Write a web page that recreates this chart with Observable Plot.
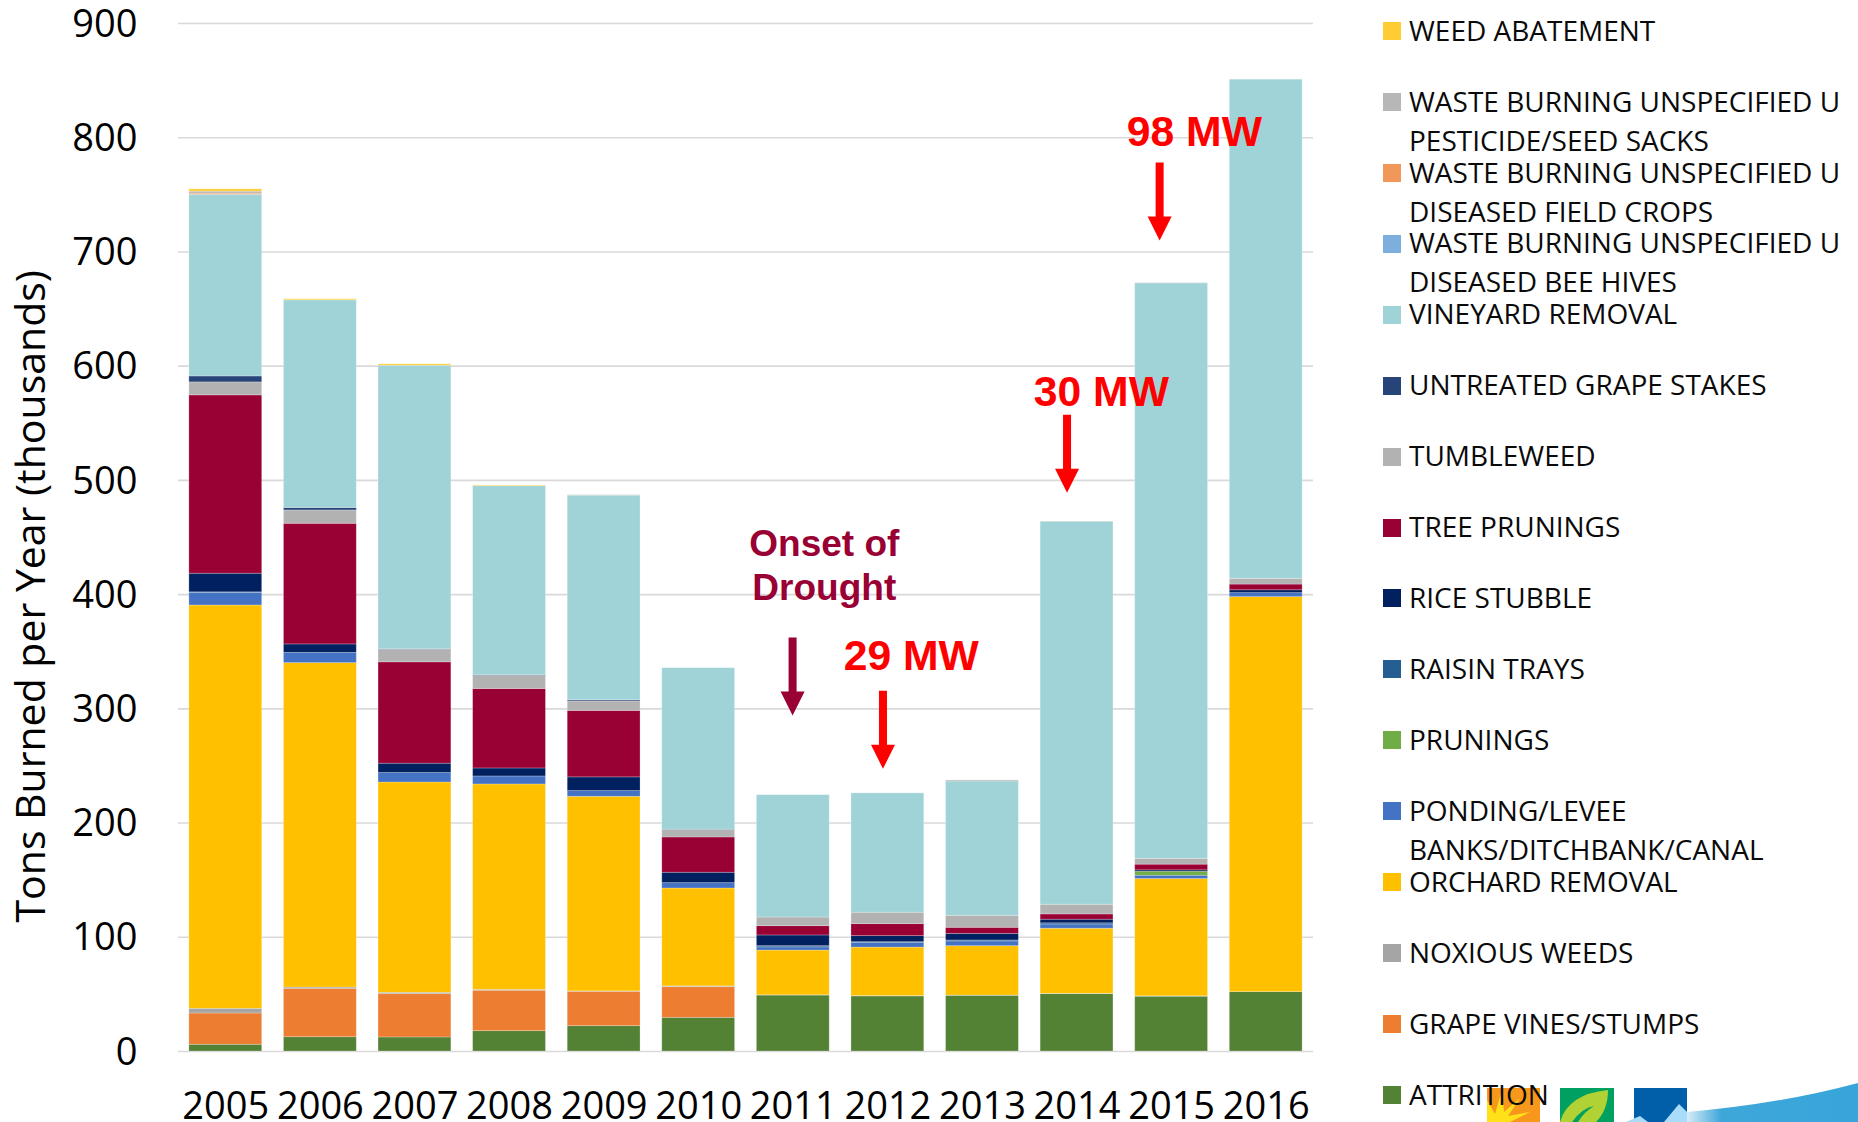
<!DOCTYPE html>
<html>
<head>
<meta charset="utf-8">
<script src="https://cdn.jsdelivr.net/npm/d3@7"></script>
<script src="https://cdn.jsdelivr.net/npm/@observablehq/plot@0.6"></script>
<style>
html,body{margin:0;padding:0;background:#fff;width:1858px;height:1122px;overflow:hidden;position:relative;font-family:"Open Sans",sans-serif;color:#000}
svg{display:block}
#chart{position:absolute;left:0;top:0}
#logos{position:absolute;left:0;top:0}
.sw{position:absolute;width:18px;height:18px}
.lb{position:absolute;left:1409px;font-size:28px;line-height:39px;white-space:pre;color:#0a0a0a}
</style>
</head>
<body>
<div id="chart"></div>
<svg id="logos" width="1858" height="1122">
  <defs>
    <linearGradient id="sw" x1="0" x2="1" y1="0" y2="0">
      <stop offset="0" stop-color="#d6ecf7"/><stop offset="0.2" stop-color="#3ea7da"/><stop offset="1" stop-color="#37a5da"/>
    </linearGradient>
  </defs>
  <rect x="1487" y="1088" width="53" height="34" fill="#f7981d"/>
  <path d="M1487 1122L1487 1100L1495 1114L1502 1090L1504 1112L1520 1098L1508 1116L1530 1112L1510 1122Z" fill="#ffe11a"/>
  <rect x="1560" y="1088" width="54" height="34" fill="#00a160"/>
  <path d="M1560 1122Q1568 1094 1608 1090Q1608 1110 1596 1122Z" fill="#b0d235"/>
  <path d="M1572 1122Q1582 1108 1594 1106Q1584 1112 1578 1122Z" fill="#00a160"/>
  <rect x="1634" y="1088" width="53" height="34" fill="#005fa8"/>
  <path d="M1626 1122L1640 1116L1648 1122L1664 1122L1679 1104L1687 1112L1687 1122Z" fill="#a8dcf8"/>
  <path d="M1687 1112Q1780 1104 1858 1083L1858 1122L1687 1122Z" fill="url(#sw)"/>
</svg>
<div id="legend"></div>
<script>
const years = ["2005","2006","2007","2008","2009","2010","2011","2012","2013","2014","2015","2016"];
const yTicks = [0,100,200,300,400,500,600,700,800,900];

const attrition      = [5.9,12.5,12.3,17.8,22.2,29.5,49,48.2,48.8,50.2,48,52];
const grapeVines     = [27.4,42.4,37.9,35.4,30.1,26.8,0,0,0,0,0,0];
const noxiousWeeds   = [4.1,1.1,1.2,0.8,0.3,0.7,0.2,0.3,0.2,0.3,0.3,0];
const orchardRemoval = [353.1,284,184.1,179.8,170.4,85.7,39.2,42.5,43.2,57,102.7,345.8];
const ponding        = [11,9,8.3,7,5,4.7,2.8,4,4.2,3.7,2.9,3.5];
const prunings       = [0,0,0,0,0,0,0,0,0,0,3.5,0];
const raisinTrays    = [0.5,0,0,0,0,0,1,0.7,0.8,1,0,0];
const riceStubble    = [16.3,7.4,8.2,7,12,9.1,9.4,5.3,5.8,3.2,1.2,2.5];
const treePrunings   = [156.1,105.6,88.7,69.6,58.2,30.9,8.1,10.5,5.3,4.6,5,5];
const tumbleweed     = [11.4,11.7,11,11.4,8.3,6.4,7.6,10,10.5,8.5,5.1,5];
const grapeStakes    = [5.2,2.1,0.6,0.7,1,0.4,0,0,0,0,0,0];
const vineyard       = [159,181.8,248.1,165.5,179.1,141.4,107.1,104.5,117.6,335.2,503.8,437];
const beeHives       = [0,0,0,0,0,0,0,0,0,0,0,0];
const fieldCrops     = [1,0,0,0,0,0,0,0,0,0,0,0];
const seedSacks      = [1.8,0,0,0,0.4,0,0,0,0.9,0.3,0.2,0];
const weedAbatement  = [2,0.9,1.2,0.6,0,0,0,0,0,0,0,0];

// bottom of the stack first
const seriesNames = ["ATTRITION","GRAPE VINES/STUMPS","NOXIOUS WEEDS","ORCHARD REMOVAL","PONDING/LEVEE\nBANKS/DITCHBANK/CANAL","PRUNINGS","RAISIN TRAYS","RICE STUBBLE","TREE PRUNINGS","TUMBLEWEED","UNTREATED GRAPE STAKES","VINEYARD REMOVAL","WASTE BURNING UNSPECIFIED U\nDISEASED BEE HIVES","WASTE BURNING UNSPECIFIED U\nDISEASED FIELD CROPS","WASTE BURNING UNSPECIFIED U\nPESTICIDE/SEED SACKS","WEED ABATEMENT"];
const seriesColors = ["#548235","#ed7d31","#a5a5a5","#ffc000","#4472c4","#70ad47","#255e91","#002060","#990033","#b2b2b2","#264478","#a0d3d7","#7cafdd","#f1975a","#b7b7b7","#ffcd33"];
const seriesValues = [attrition,grapeVines,noxiousWeeds,orchardRemoval,ponding,prunings,raisinTrays,riceStubble,treePrunings,tumbleweed,grapeStakes,vineyard,beeHives,fieldCrops,seedSacks,weedAbatement];

const noteLabels = ["Onset of\nDrought","29 MW","30 MW","98 MW"];
const noteYears  = ["2011","2012","2014","2015"];
const noteValues = [395.4,333.6,565,793];
const noteTips   = [294.2,247.5,489.1,710];
const noteColors = ["#990033","#ff0000","#ff0000","#ff0000"];
const noteDx     = [31,23.4,24.3,22.7];
const tipDx      = [-0.7,-4.9,-10,-12];
const noteSizes  = [37,42.7,42.7,42.7];

const rows = seriesNames.flatMap((s,i)=>years.map((y,j)=>({year:y,series:s,value:seriesValues[i][j]}))).filter(d=>d.value>0);
const notes = noteLabels.map((label,i)=>({label,year:noteYears[i],value:noteValues[i],tip:noteTips[i],color:noteColors[i],dx:noteDx[i],tipDx:tipDx[i],size:noteSizes[i]}));

const downArrow = {draw(c,l){ // tip at the anchor, shaft running upward
  c.moveTo(0,0); c.lineTo(12,-24); c.lineTo(4,-24); c.lineTo(4,-l); c.lineTo(-4,-l); c.lineTo(-4,-24); c.lineTo(-12,-24); c.closePath();
}};

const plot = Plot.plot({
  width:1858, height:1122,
  marginLeft:178, marginRight:545, marginTop:23, marginBottom:71,
  style:{fontFamily:"'Open Sans',sans-serif",background:"#fff",color:"#000"},
  x:{domain:years,paddingInner:0.23,paddingOuter:0.115,round:false,label:null},
  y:{domain:[0,900],label:null},
  color:{domain:seriesNames,range:seriesColors},
  marks:[
    Plot.gridY(yTicks,{stroke:"#d9d9d9",strokeOpacity:1,strokeWidth:1.6}),
    Plot.barY(rows,{x:"year",y:"value",fill:"series",stroke:"#fff",strokeOpacity:0.3,strokeWidth:0.8}),
    Plot.axisY({ticks:yTicks,tickSize:0,tickPadding:41,fontSize:38,dy:1,label:null}),
    Plot.axisX({tickSize:0,tickPadding:41,fontSize:38,label:null}),
    Plot.text(["Tons Burned per Year (thousands)"],{frameAnchor:"left",y:[398.5],rotate:-90,dx:-147,fontSize:41,textAnchor:"middle",lineAnchor:"middle"}),
    ...notes.map(n=>Plot.text([n],{x:"year",y:"value",text:"label",dx:n.dx,fill:n.color,fontFamily:"'Liberation Sans',Arial,sans-serif",fontWeight:"bold",fontSize:n.size,lineAnchor:"bottom",lineHeight:1.19})),
    ...notes.map(n=>Plot.vector([n],{x:"year",y:"tip",dx:n.tipDx,length:78,anchor:"start",shape:downArrow,fill:n.color,stroke:"none"}))
  ]
});
document.getElementById("chart").appendChild(plot);

// legend: top row is the last series in the stack
const legend = document.getElementById("legend");
seriesNames.slice().reverse().forEach((name,i)=>{
  const c = seriesColors[seriesNames.indexOf(name)];
  const cy = 31 + i*70.93;
  const sw = document.createElement("div");
  sw.className="sw"; sw.style.left="1383px"; sw.style.top=(cy-9)+"px"; sw.style.background=c;
  const lb = document.createElement("div");
  lb.className="lb"; lb.style.top=(cy-20.3)+"px"; lb.textContent=name;
  legend.append(sw,lb);
});
</script>
</body>
</html>
